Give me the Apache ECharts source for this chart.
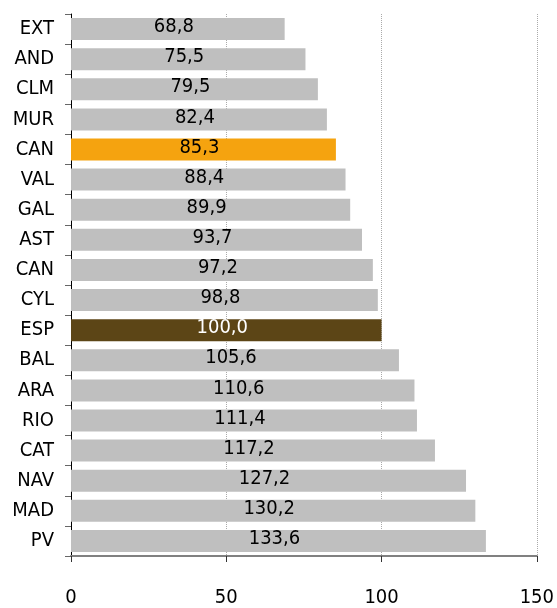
<!DOCTYPE html>
<html>
<head>
<meta charset="utf-8">
<script src="https://cdn.jsdelivr.net/npm/echarts@6/dist/echarts.min.js"></script>
<style>
  html, body { margin: 0; padding: 0; background: #fff; }
  #chart { width: 557px; height: 608px; }
</style>
</head>
<body>
<div id="chart"></div>
<script>
// regiones, de arriba abajo
var regiones = ['EXT', 'AND', 'CLM', 'MUR', 'CAN', 'VAL', 'GAL', 'AST', 'CAN ', 'CYL',
                'ESP', 'BAL', 'ARA', 'RIO', 'CAT', 'NAV', 'MAD', 'PV'];
var valores = [68.8, 75.5, 79.5, 82.4, 85.3, 88.4, 89.9, 93.7, 97.2, 98.8,
               100.0, 105.6, 110.6, 111.4, 117.2, 127.2, 130.2, 133.6];
var ejeX = [0, 50, 100, 150];

var gris = '#bfbfbf', naranja = '#f5a30f', marron = '#5c4516';
var fuente = '"DejaVu Sans Condensed", sans-serif';

var datos = [];
for (var i = 0; i < valores.length; i++) {
    var color = gris, colorTexto = '#000';
    if (i === 4) color = naranja;
    if (i === 10) { color = marron; colorTexto = '#fff'; }
    datos.push({ value: valores[i], itemStyle: { color: color }, label: { color: colorTexto } });
}

var chart = echarts.init(document.getElementById('chart'));
chart.setOption({
    animation: false,
    backgroundColor: '#fff',
    grid: { left: 71, right: 16, top: 14, bottom: 52, containLabel: false },
    xAxis: {
        type: 'value',
        min: ejeX[0],
        max: ejeX[ejeX.length - 1],
        interval: 50,
        axisLine: { show: true, lineStyle: { color: '#808080', width: 2 } },
        axisTick: { show: true, length: 6, lineStyle: { color: '#333' } },
        axisLabel: { margin: 32, fontSize: 20, color: '#000', fontFamily: fuente },
        splitLine: { show: true, lineStyle: { color: '#aaa', type: 'dotted', width: 1 } }
    },
    yAxis: {
        type: 'category',
        data: regiones,
        inverse: true,
        axisLine: { show: true, lineStyle: { color: '#000', width: 1 } },
        axisTick: { show: true, length: 6, lineStyle: { color: '#666' } },
        axisLabel: {
            margin: 17, fontSize: 20, color: '#000', fontFamily: fuente,
            formatter: function (v) { return v.trim(); }
        }
    },
    series: [{
        type: 'bar',
        data: datos,
        barCategoryGap: '27%',
        label: {
            show: true,
            position: 'inside',
            offset: [-4, -2],
            fontSize: 20,
            fontFamily: fuente,
            formatter: function (p) { return p.value.toFixed(1).replace('.', ','); }
        }
    }]
});
</script>
</body>
</html>
